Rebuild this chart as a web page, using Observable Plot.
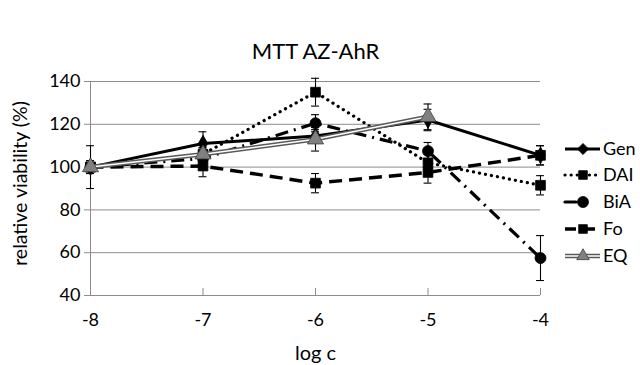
<!DOCTYPE html>
<html><head><meta charset="utf-8">
<script src="https://cdn.jsdelivr.net/npm/d3@7"></script>
<script src="https://cdn.jsdelivr.net/npm/@observablehq/plot@0.6"></script>
<style>body{margin:0;background:#fff;font-family:Lato,"Open Sans",sans-serif}</style>
</head><body><div id="chart"></div>
<script>
const logC = [-8, -7, -6, -5, -4];
const seriesNames = ["Gen", "DAI", "BiA", "Fo", "EQ"];
const gen    = [100, 111, 114.5, 122, 105.5];
const genErr = [0, 5.5, 3, 5, 4.5];
const dai    = [100, 106, 135, 102, 91.5];
const daiErr = [10, 3, 6.5, 4, 4.5];
const bia    = [100, 104, 120.5, 107.5, 57.5];
const biaErr = [3, 3, 4, 4, 10.5];
const fo     = [100, 100.5, 92.5, 97.5, 105.5];
const foErr  = [2, 5, 4.5, 5, 4.5];
const eq     = [100, 106, 113, 123.5, null];
const eqErr  = [3, 3, 5.5, 6, null];
const yTicks = [40, 60, 80, 100, 120, 140];

const values = {Gen: [gen, genErr], DAI: [dai, daiErr], BiA: [bia, biaErr], Fo: [fo, foErr], EQ: [eq, eqErr]};
const data = [];
for (const s of seriesNames) {
  const [v, e] = values[s];
  logC.forEach((x, i) => { if (v[i] != null) data.push({series: s, x, y: v[i], err: e[i]}); });
}

const styles = {
  Gen: {stroke: "black", strokeWidth: 3, dash: null, cap: "butt", symbol: "diamond", fill: "black", r: 5},
  DAI: {stroke: "black", strokeWidth: 3.2, dash: "0.1 6", cap: "round", symbol: "square", fill: "black", r: 5.5},
  BiA: {stroke: "black", strokeWidth: 3.2, dash: "13 6 2 6", cap: "butt", symbol: "circle", fill: "black", r: 5.5},
  Fo:  {stroke: "black", strokeWidth: 3.5, dash: "13 7", cap: "butt", symbol: "square", fill: "black", r: 5.5},
  EQ:  {stroke: "#5a5a5a", strokeWidth: 4.5, dash: null, cap: "butt", symbol: "triangle", fill: "#808080", r: 6, dbl: true}
};

const gray = "#8c8c8c";
const marks = [
  Plot.gridY(yTicks, {stroke: gray, strokeOpacity: 1}),
  Plot.ruleX([-8], {stroke: gray}),
  Plot.ruleY([40], {stroke: gray}),
  Plot.ruleX(logC, {y1: 40, y2: 43.3, stroke: gray}),
  Plot.axisY({ticks: yTicks, tickSize: 6, tickPadding: 4, fontSize: 18, label: null, stroke: gray, fill: "black"}),
  Plot.axisX({ticks: logC, tickSize: 0, tickPadding: 18, fontSize: 18, label: null, fill: "black", tickFormat: d => String(d)}),
  Plot.text(["MTT AZ-AhR"], {frameAnchor: "top", dy: -38, fontSize: 22, fill: "black"}),
  Plot.text(["relative viability (%)"], {frameAnchor: "left", textAnchor: "middle", dx: -70, dy: -5, rotate: -90, fontSize: 19.5, fill: "black"}),
  Plot.text(["log c"], {frameAnchor: "bottom", dy: 64, fontSize: 20, fill: "black"})
];

const withErr = data.filter(d => d.err);
marks.push(Plot.ruleX(withErr, {x: "x", y1: d => d.y - d.err, y2: d => d.y + d.err, stroke: "black", strokeWidth: 1.1}));
const caps = withErr.flatMap(d => [{x: d.x, y: d.y - d.err}, {x: d.x, y: d.y + d.err}]);
marks.push(Plot.ruleY(caps, {y: "y", x1: d => d.x - 0.035, x2: d => d.x + 0.035, stroke: "black", strokeWidth: 1.1}));

for (const s of seriesNames) {
  const st = styles[s];
  const d = data.filter(r => r.series === s);
  marks.push(Plot.line(d, {x: "x", y: "y", stroke: st.stroke, strokeWidth: st.strokeWidth, strokeDasharray: st.dash, strokeLinecap: st.cap}));
  if (st.dbl) marks.push(Plot.line(d, {x: "x", y: "y", stroke: "white", strokeWidth: 1.5}));
  marks.push(Plot.dot(d, {x: "x", y: "y", symbol: () => st.symbol, fill: st.fill, stroke: s === "EQ" ? "#404040" : "black", strokeWidth: 0.8, r: st.r}));
}

const chart = Plot.plot({
  width: 640, height: 365,
  marginLeft: 90, marginRight: 100, marginTop: 81, marginBottom: 70,
  style: {fontFamily: "Lato, 'Open Sans', sans-serif", background: "white"},
  x: {domain: [-8, -4], axis: null},
  y: {domain: [40, 140], axis: null},
  symbol: {type: "identity"},
  marks
});
document.getElementById("chart").append(chart);

// legend
const svg = d3.select(chart);
const lg = svg.append("g").attr("class", "legend");
const rowY = [149, 175, 202, 229, 256];
seriesNames.forEach((s, i) => {
  const st = styles[s];
  const y = rowY[i];
  const g = lg.append("g");
  g.append("line").attr("x1", 565).attr("x2", 600).attr("y1", y).attr("y2", y)
    .attr("stroke", st.stroke).attr("stroke-width", st.strokeWidth)
    .attr("stroke-dasharray", s === "DAI" ? "0.1 6" : s === "BiA" ? "11 8 0.1 20" : s === "Fo" ? "11 8" : null)
    .attr("stroke-linecap", st.cap === "round" || s === "BiA" ? "round" : "butt");
  if (st.dbl) g.append("line").attr("x1", 565).attr("x2", 600).attr("y1", y).attr("y2", y).attr("stroke", "white").attr("stroke-width", 1.5);
  const symMap = {diamond: d3.symbolDiamond2, square: d3.symbolSquare2, circle: d3.symbolCircle, triangle: d3.symbolTriangle2};
  const area = Math.PI * st.r * st.r;
  g.append("path").attr("d", d3.symbol(symMap[st.symbol], area)()).attr("transform", `translate(583,${y})`)
    .attr("fill", st.fill).attr("stroke", s === "EQ" ? "#404040" : "black").attr("stroke-width", 0.8);
  g.append("text").attr("x", 603).attr("y", y).attr("dy", "0.35em").attr("text-anchor", "start")
    .attr("font-size", 18).attr("fill", "black").text(s);
});
</script></body></html>
